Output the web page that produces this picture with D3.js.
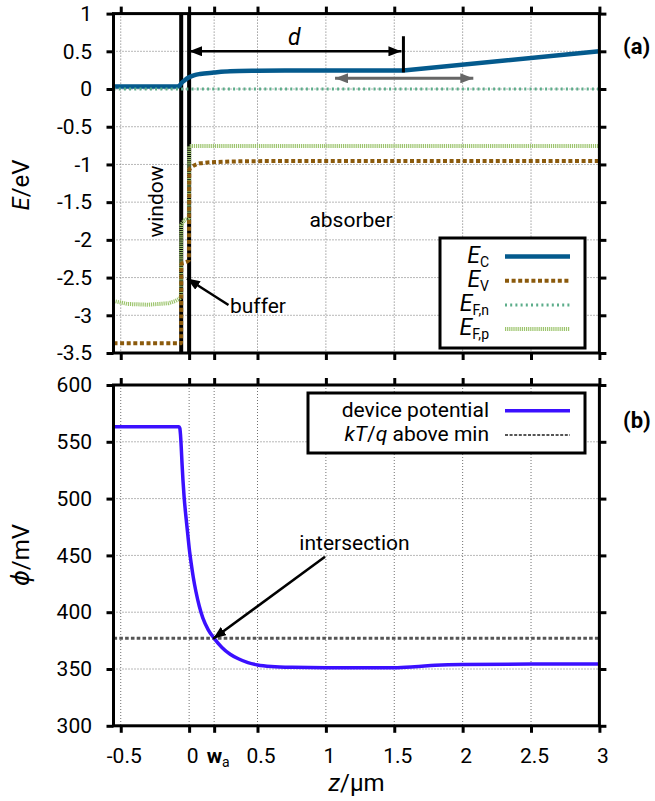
<!DOCTYPE html>
<html>
<head>
<meta charset="utf-8">
<script src="https://cdn.jsdelivr.net/npm/d3@7"></script>
<style>
  body { margin: 0; background: #fff; }
  svg text { font-family: Roboto, "DejaVu Sans", sans-serif; fill: #000; }
</style>
</head>
<body>
<svg id="chart" width="655" height="801"></svg>
<script>
/* **************************************************************** *
 *   Data
 * **************************************************************** */
const zTicks      = [-0.5, 0, 0.5, 1, 1.5, 2, 2.5, 3];
const zTickLabels = ['-0.5', '0', '0.5', '1', '1.5', '2', '2.5', '3'];
const wa          = 0.183;
const eTicks      = [1, 0.5, 0, -0.5, -1, -1.5, -2, -2.5, -3, -3.5];
const eTickLabels = ['1', '0.5', '0', '-0.5', '-1', '-1.5', '-2', '-2.5', '-3', '-3.5'];
const phiTicks    = [600, 550, 500, 450, 400, 350, 300];

// layer boundaries (window | buffer | absorber), µm
const layerEdges = [-0.058, 0];

// band diagram, [z in µm, E in eV]
const EC = [[-0.553, 0.035], [-0.085, 0.035], [-0.07, 0.045], [-0.058, 0.075], [-0.03, 0.12],
            [0, 0.155], [0.04, 0.185], [0.08, 0.2], [0.18, 0.218], [0.3, 0.235], [0.5, 0.242],
            [0.7, 0.245]];
const ECramp = [[0.7, 0.245], [1.567, 0.245], [3, 0.5]];
const EV = [[-0.553, -3.37], [-0.059, -3.37], [-0.057, -2.32], [-0.03, -2.3], [-0.002, -2.27],
            [0, -1.6], [0.001, -1.07], [0.015, -1.04], [0.04, -1.01], [0.08, -0.985],
            [0.2, -0.968], [0.5, -0.956], [3, -0.955]];
const EFn = [[-0.553, 0], [3, 0]];
const EFp = [[-0.553, -2.81], [-0.45, -2.85], [-0.3, -2.86], [-0.15, -2.84], [-0.1, -2.81],
             [-0.07, -2.78], [-0.06, -2.76], [-0.057, -1.8], [-0.035, -1.74], [-0.002, -1.71],
             [0.001, -0.756], [3, -0.756]];

// electrostatic potential, [z in µm, phi in mV]
const PHI = [[-0.553, 563.3], [-0.074, 563.3], [-0.068, 562], [-0.063, 556], [-0.058, 546],
             [-0.052, 531], [-0.045, 516], [-0.037, 502], [-0.025, 486], [-0.012, 471],
             [0, 457], [0.015, 443], [0.03, 431], [0.05, 418], [0.075, 405], [0.1, 395],
             [0.14, 384.5], [0.183, 377], [0.24, 369], [0.3, 363], [0.36, 359], [0.43, 355.6],
             [0.5, 353.6], [0.6, 352.2], [0.75, 351.5], [1.0, 351.2], [1.5, 351.2], [1.65, 352],
             [1.8, 353.3], [2.0, 354], [2.5, 354.3], [3, 354.3]];
const phiKT = 377;     // min + kT/q

// annotations
const dArrow   = { z1: 0, z2: 1.567, e: 0.5, barTop: 0.7, barBottom: 0.22 };
const grayArr  = { z1: 1.067, z2: 2.078, e: 0.142 };

/* **************************************************************** *
 *   Layout
 * **************************************************************** */
const frame = { left: 113.5, right: 599.4 };
const panelA = { top: 13.6, bottom: 353 };
const panelB = { top: 385, bottom: 725.8 };

const svg = d3.select('#chart');

const x = d3.scaleLinear().domain([-0.553, 3]).range([frame.left, frame.right]);
const yA = d3.scaleLinear().domain([-3.5, 1]).range([panelA.bottom, panelA.top]);
const yB = d3.scaleLinear().domain([300, 600]).range([panelB.bottom, panelB.top]);

const xTickVals = [-0.5, 0, wa, 0.5, 1, 1.5, 2, 2.5, 3];

/* **************************************************************** *
 *   Markers
 * **************************************************************** */
let defs = svg.append('defs');
let marker = (id, color) => {
    defs.append('marker')
        .attr('id', id)
        .attr('markerUnits', 'userSpaceOnUse')
        .attr('viewBox', '0 -5 13 10')
        .attr('refX', 13).attr('refY', 0)
        .attr('markerWidth', 13).attr('markerHeight', 10)
        .attr('orient', 'auto-start-reverse')
        .append('path')
        .attr('d', 'M0,-5 L13,0 L0,5 Z')
        .attr('fill', color);
};
marker('headK', '#000');
marker('headG', '#666');

/* **************************************************************** *
 *   Grid + frame + ticks
 * **************************************************************** */
let drawGrid = (y, top, bottom, yTicks) => {
    let g = svg.append('g').attr('class', 'grid');
    g.selectAll('line.gx')
        .data(xTickVals.filter((d) => { return d < 3; }))
        .enter().append('line')
        .attr('x1', (d) => { return x(d); }).attr('x2', (d) => { return x(d); })
        .attr('y1', top).attr('y2', bottom);
    g.selectAll('line.gy')
        .data(yTicks.filter((d) => { return y(d) > top + 1 && y(d) < bottom - 1; }))
        .enter().append('line')
        .attr('x1', frame.left).attr('x2', frame.right)
        .attr('y1', (d) => { return y(d); }).attr('y2', (d) => { return y(d); });
    g.selectAll('line')
        .attr('stroke', '#707070')
        .attr('stroke-width', 1)
        .attr('stroke-dasharray', '1,2');
};

let drawFrame = (y, top, bottom, yTicks, yLabels, xLabels) => {
    let g = svg.append('g').attr('class', 'axes');

    let left = d3.axisLeft(y).tickValues(yTicks).tickSize(7).tickSizeOuter(0)
        .tickFormat((d, i) => { return yLabels[i]; });
    let right = d3.axisRight(y).tickValues(yTicks).tickSize(7).tickSizeOuter(0).tickFormat('');
    let topAx = d3.axisTop(x).tickValues(xTickVals).tickSize(7).tickSizeOuter(0).tickFormat('');
    let bottomAx = d3.axisBottom(x).tickValues(xTickVals).tickSize(7).tickSizeOuter(0)
        .tickFormat((d) => {
            if (!xLabels || d === wa) return '';
            return zTickLabels[zTicks.indexOf(d)];
        });

    g.append('g').attr('transform', 'translate(' + frame.left + ',0)').call(left);
    g.append('g').attr('transform', 'translate(' + frame.right + ',0)').call(right);
    g.append('g').attr('transform', 'translate(0,' + top + ')').call(topAx);
    let gb = g.append('g').attr('class', 'bottom').attr('transform', 'translate(0,' + bottom + ')').call(bottomAx);

    g.selectAll('.domain').remove();
    g.selectAll('.tick line').attr('stroke', '#000').attr('stroke-width', 3);
    g.selectAll('.tick text')
        .attr('font-size', 21)
        .attr('font-family', 'Roboto, sans-serif')
        .attr('fill', '#000');
    g.selectAll('.tick text').filter(function () { return this.parentNode.parentNode === gb.node(); })
        .attr('dy', null).attr('y', 37).attr('dx', 3);
    g.selectAll('.tick text').filter(function () { return this.parentNode.parentNode !== gb.node(); })
        .attr('x', -21.5);

    if (xLabels) {
        let t = gb.append('text')
            .attr('x', x(wa) + 4).attr('y', 37)
            .attr('text-anchor', 'middle')
            .attr('font-size', 21);
        t.append('tspan').attr('font-weight', 'bold').text('w');
        t.append('tspan').attr('font-size', 14).attr('dy', 4).text('a');
    }

    svg.append('rect')
        .attr('x', frame.left).attr('y', top)
        .attr('width', frame.right - frame.left).attr('height', bottom - top)
        .attr('fill', 'none').attr('stroke', '#000').attr('stroke-width', 3);
};

drawGrid(yA, panelA.top, panelA.bottom, eTicks);
drawGrid(yB, panelB.top, panelB.bottom, phiTicks);

/* **************************************************************** *
 *   Panel (a): bands
 * **************************************************************** */
let lineA = d3.line()
    .x((d) => { return x(d[0]); })
    .y((d) => { return yA(d[1]); });
let lineSmooth = d3.line()
    .curve(d3.curveMonotoneX)
    .x((d) => { return x(d[0]); })
    .y((d) => { return yA(d[1]); });

svg.append('g').attr('class', 'layers')
    .selectAll('line')
    .data(layerEdges)
    .enter().append('line')
    .attr('x1', (d) => { return x(d); }).attr('x2', (d) => { return x(d); })
    .attr('y1', panelA.top).attr('y2', panelA.bottom)
    .attr('stroke', '#000').attr('stroke-width', 4);

const bandStyles = [
    { key: 'EC',  color: '#045a8d', width: 4.5, dash: null },
    { key: 'EV',  color: '#8b5a0c', width: 4,   dash: '4,2.6' },
    { key: 'EFn', color: '#5cad8a', width: 3,   dash: '2,3.2' },
    { key: 'EFp', color: '#9cc46c', width: 4,   dash: '1.2,0.9' }
];
let style = (key) => { return bandStyles.find((b) => { return b.key === key; }); };

const bandPaths = [
    { key: 'EFp', d: lineA(EFp) },
    { key: 'EV',  d: lineSmooth(EV) },
    { key: 'EC',  d: lineSmooth(EC) + lineA(ECramp).replace(/^M/, 'L') },
    { key: 'EFn', d: lineA(EFn) }
];

svg.append('g').attr('class', 'bands')
    .selectAll('path')
    .data(bandPaths)
    .enter().append('path')
    .attr('d', (p) => { return p.d; })
    .attr('fill', 'none')
    .attr('stroke', (p) => { return style(p.key).color; })
    .attr('stroke-width', (p) => { return style(p.key).width; })
    .attr('stroke-dasharray', (p) => { return style(p.key).dash; });

// d arrow
svg.append('line')
    .attr('x1', x(dArrow.z1)).attr('x2', x(dArrow.z2) - 2)
    .attr('y1', yA(dArrow.e)).attr('y2', yA(dArrow.e))
    .attr('stroke', '#000').attr('stroke-width', 2.5)
    .attr('marker-start', 'url(#headK)').attr('marker-end', 'url(#headK)');
svg.append('line')
    .attr('x1', x(dArrow.z2)).attr('x2', x(dArrow.z2))
    .attr('y1', yA(dArrow.barTop)).attr('y2', yA(dArrow.barBottom))
    .attr('stroke', '#000').attr('stroke-width', 3);
svg.append('text')
    .attr('x', (x(dArrow.z1) + x(dArrow.z2)) / 2 - 2).attr('y', 45)
    .attr('text-anchor', 'middle').attr('font-size', 23).attr('font-style', 'italic')
    .text('d');

// gray double arrow
svg.append('line')
    .attr('x1', x(grayArr.z1)).attr('x2', x(grayArr.z2))
    .attr('y1', yA(grayArr.e)).attr('y2', yA(grayArr.e))
    .attr('stroke', '#666').attr('stroke-width', 3)
    .attr('marker-start', 'url(#headG)').attr('marker-end', 'url(#headG)');

// region labels
svg.append('text')
    .attr('transform', 'translate(163,201.5) rotate(-90)')
    .attr('text-anchor', 'middle').attr('font-size', 21)
    .text('window');
svg.append('text')
    .attr('x', 351).attr('y', 227)
    .attr('text-anchor', 'middle').attr('font-size', 21)
    .text('absorber');
svg.append('text')
    .attr('x', 230).attr('y', 313)
    .attr('font-size', 21)
    .text('buffer');
svg.append('line')
    .attr('x1', 228.5).attr('y1', 305)
    .attr('x2', 187).attr('y2', 278.5)
    .attr('stroke', '#000').attr('stroke-width', 2.5)
    .attr('marker-end', 'url(#headK)');

// legend (a)
svg.append('rect')
    .attr('x', 440).attr('y', 238).attr('width', 145).attr('height', 110)
    .attr('fill', '#fff').attr('stroke', '#000').attr('stroke-width', 3);
const legendA = [
    { key: 'EC',  sub: 'C' },
    { key: 'EV',  sub: 'V' },
    { key: 'EFn', sub: 'F,n' },
    { key: 'EFp', sub: 'F,p' }
];
svg.append('g').attr('class', 'legend-a')
    .selectAll('line')
    .data(legendA)
    .enter().append('line')
    .attr('x1', 505).attr('x2', 570)
    .attr('y1', (d, i) => { return 256.5 + i * 24.2; })
    .attr('y2', (d, i) => { return 256.5 + i * 24.2; })
    .attr('stroke', (d) => { return style(d.key).color; })
    .attr('stroke-width', (d) => { return style(d.key).width; })
    .attr('stroke-dasharray', (d) => { return style(d.key).dash; });
for (var j = 0; j < legendA.length; j++) {
    let t = svg.append('text')
        .attr('x', 489).attr('y', 256.5 + j * 24.2 + 6)
        .attr('text-anchor', 'end').attr('font-size', 23);
    t.append('tspan').attr('font-style', 'italic').text('E');
    t.append('tspan').attr('font-size', 14).attr('dy', 4).text(legendA[j].sub);
}

svg.append('text')
    .attr('x', 623).attr('y', 54)
    .attr('font-size', 22).attr('font-weight', 'bold')
    .text('(a)');

/* **************************************************************** *
 *   Panel (b): potential
 * **************************************************************** */
let lineB = d3.line()
    .curve(d3.curveMonotoneX)
    .x((d) => { return x(d[0]); })
    .y((d) => { return yB(d[1]); });

svg.append('line')
    .attr('x1', frame.left).attr('x2', frame.right)
    .attr('y1', yB(phiKT)).attr('y2', yB(phiKT))
    .attr('stroke', '#555').attr('stroke-width', 3)
    .attr('stroke-dasharray', '3.6,2.2');

svg.append('path')
    .attr('d', lineB(PHI))
    .attr('fill', 'none')
    .attr('stroke', '#3b10ff')
    .attr('stroke-width', 3.5);

svg.append('text')
    .attr('x', 354.5).attr('y', 550)
    .attr('text-anchor', 'middle').attr('font-size', 21)
    .text('intersection');
svg.append('line')
    .attr('x1', 325).attr('y1', 556.7)
    .attr('x2', x(wa) - 1).attr('y2', yB(phiKT) + 0.5)
    .attr('stroke', '#000').attr('stroke-width', 2.5)
    .attr('marker-end', 'url(#headK)');

// legend (b)
svg.append('rect')
    .attr('x', 308).attr('y', 393).attr('width', 277).attr('height', 60)
    .attr('fill', '#fff').attr('stroke', '#000').attr('stroke-width', 3);
svg.append('line')
    .attr('x1', 505).attr('x2', 570).attr('y1', 410.7).attr('y2', 410.7)
    .attr('stroke', '#3b10ff').attr('stroke-width', 3.5);
svg.append('text')
    .attr('x', 489).attr('y', 416.5)
    .attr('text-anchor', 'end').attr('font-size', 21)
    .text('device potential');
svg.append('line')
    .attr('x1', 505).attr('x2', 570).attr('y1', 435).attr('y2', 435)
    .attr('stroke', '#555').attr('stroke-width', 2.2)
    .attr('stroke-dasharray', '3,1.6');
let tk = svg.append('text')
    .attr('x', 489).attr('y', 441)
    .attr('text-anchor', 'end').attr('font-size', 21);
tk.append('tspan').attr('font-style', 'italic').text('kT');
tk.append('tspan').text('/');
tk.append('tspan').attr('font-style', 'italic').text('q');
tk.append('tspan').text(' above min');

svg.append('text')
    .attr('x', 623).attr('y', 428)
    .attr('font-size', 22).attr('font-weight', 'bold')
    .text('(b)');

/* **************************************************************** *
 *   Axes + titles
 * **************************************************************** */
drawFrame(yA, panelA.top, panelA.bottom, eTicks, eTickLabels, false);
drawFrame(yB, panelB.top, panelB.bottom, phiTicks, phiTicks.map(String), true);

let ta = svg.append('text')
    .attr('transform', 'translate(29,185) rotate(-90)')
    .attr('text-anchor', 'middle').attr('font-size', 24);
ta.append('tspan').attr('font-style', 'italic').text('E');
ta.append('tspan').text('/eV');

let tb = svg.append('text')
    .attr('transform', 'translate(29,555) rotate(-90)')
    .attr('text-anchor', 'middle').attr('font-size', 24);
tb.append('tspan').attr('font-style', 'italic').text('ϕ');
tb.append('tspan').text('/mV');

let tz = svg.append('text')
    .attr('x', 356.5).attr('y', 791)
    .attr('text-anchor', 'middle').attr('font-size', 24);
tz.append('tspan').attr('font-style', 'italic').text('z');
tz.append('tspan').text('/µm');
</script>
</body>
</html>
